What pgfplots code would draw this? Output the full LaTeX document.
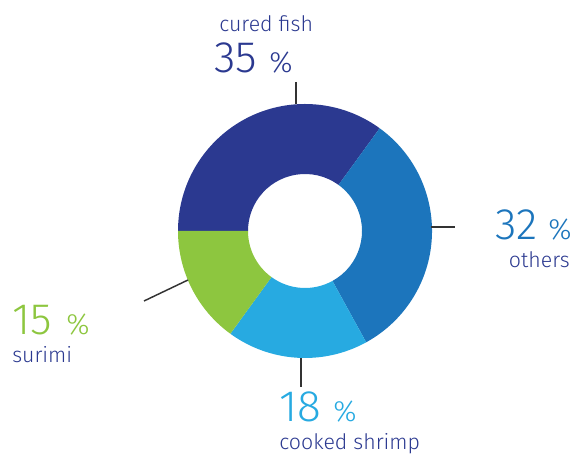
\documentclass[border=0pt]{standalone}
\usepackage{fontspec}
\setmainfont{Fira Sans Light}
\usepackage{pgfplots}
\pgfplotsset{compat=1.18}
\definecolor{navy}{HTML}{2B3990}
\definecolor{midblue}{HTML}{1C75BC}
\definecolor{skyblue}{HTML}{27AAE1}
\definecolor{lime}{HTML}{8DC63F}
\definecolor{leader}{HTML}{333333}
% donut geometry in pixel units (y measured upward)
\def\cx{305}\def\cy{225}\def\Ro{127}\def\Ri{57}
% one ring sector: start angle, share in percent, colour
\newcommand{\sector}[3]{%
  \fill[#3] (axis cs:{\cx+\Ro*cos(#1)},{\cy+\Ro*sin(#1)})
    arc[start angle=#1, end angle={#1-3.6*#2}, radius=\Ro]
    -- (axis cs:{\cx+\Ri*cos(#1-3.6*#2)},{\cy+\Ri*sin(#1-3.6*#2)})
    arc[start angle={#1-3.6*#2}, end angle=#1, radius=\Ri] -- cycle;}
\tikzset{
  lbl/.style={anchor=base west, inner sep=0pt, text=navy, font=\fontsize{16}{16}\selectfont},
  num/.style={anchor=base west, inner sep=0pt, font=\fontsize{33}{33}\selectfont},
  pc/.style={anchor=base west, inner sep=0pt, font=\fontsize{22}{22}\selectfont}
}
\begin{document}
\begin{tikzpicture}
\begin{axis}[
    x=0.75pt, y=0.75pt,
    xmin=0, xmax=574, ymin=0, ymax=456,
    hide axis, clip=false
]
\path (axis cs:0,0) rectangle (axis cs:574,456);
% shares: cured fish 35, others 32, cooked shrimp 18, surimi 15
\sector{180}{35}{navy}
\sector{54}{32}{midblue}
\sector{-61.2}{18}{skyblue}
\sector{-126}{15}{lime}
% leader lines
\draw[leader, line width=1.1pt] (axis cs:296,374) -- (axis cs:296,352);
\draw[leader, line width=1.1pt] (axis cs:431,229) -- (axis cs:455,229);
\draw[leader, line width=1.1pt] (axis cs:301,98) -- (axis cs:301,69);
\draw[leader, line width=1.1pt] (axis cs:144,155) -- (axis cs:188,176);
% labels
\node[lbl] at (axis cs:219,424) {cured fish};
\node[num, text=navy] at (axis cs:214,383) {35};
\node[pc, text=navy] at (axis cs:269,383) {\%};
\node[num, text=midblue] at (axis cs:495,216) {32};
\node[pc, text=midblue] at (axis cs:548,216) {\%};
\node[lbl, anchor=base east] at (axis cs:570,188) {others};
\node[num, text=lime] at (axis cs:12,121) {15};
\node[pc, text=lime] at (axis cs:66,121) {\%};
\node[lbl] at (axis cs:12,93) {surimi};
\node[num, text=skyblue] at (axis cs:279,34) {18};
\node[pc, text=skyblue] at (axis cs:333,34) {\%};
\node[lbl] at (axis cs:279,6) {cooked shrimp};
\end{axis}
\end{tikzpicture}
\end{document}
